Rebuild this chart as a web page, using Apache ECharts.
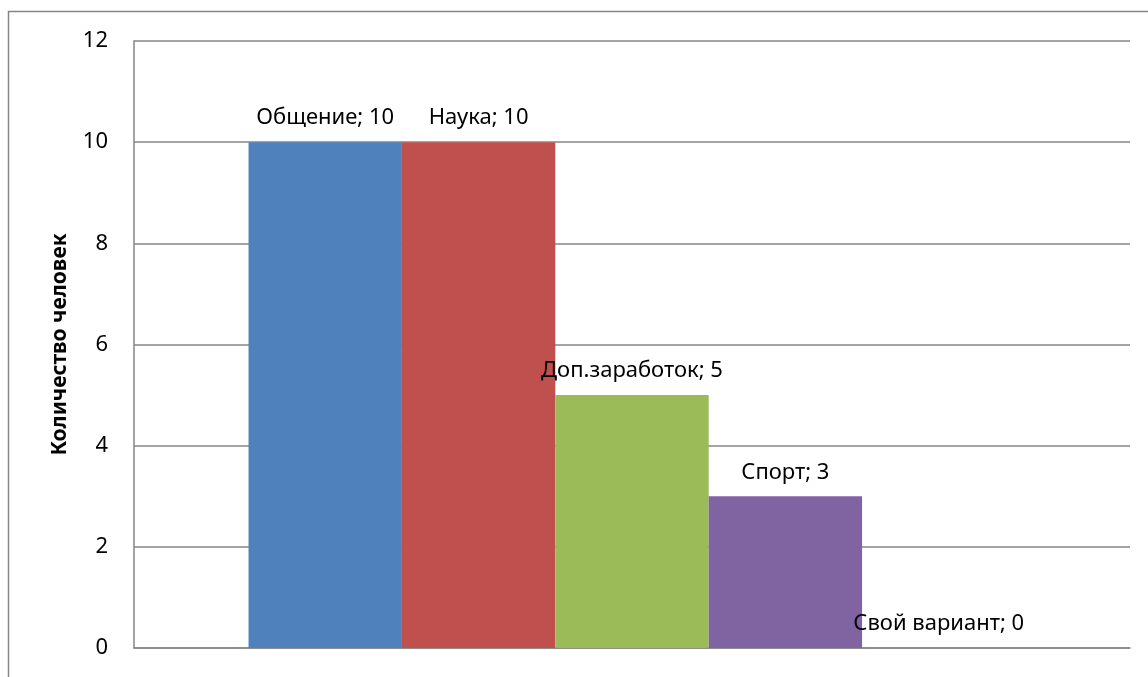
<!DOCTYPE html>
<html>
<head>
<meta charset="utf-8">
<script src="https://cdn.jsdelivr.net/npm/echarts@6/dist/echarts.min.js"></script>
<style>
    html, body { margin: 0; padding: 0; background: #fff; }
    #chart { width: 1148px; height: 677px; }
</style>
</head>
<body>
<div id="chart"></div>
<script>
let categories = [''];
let seriesNames = ['Общение', 'Наука', 'Доп.заработок', 'Спорт', 'Свой вариант'];
let seriesValues = [10, 10, 5, 3, 0];
let seriesColors = ['#4F81BD', '#C0504D', '#9BBB59', '#8064A2', '#4BACC6'];
let yTicks = { min: 0, max: 12, interval: 2 };

let font = '"Noto Sans", "Open Sans", sans-serif';

let me = echarts.init(document.getElementById('chart'));

let series = seriesNames.map(function (name, i) {
    return {
        name: name,
        type: 'bar',
        data: [seriesValues[i]],
        barGap: 0,
        barCategoryGap: '23%',
        itemStyle: { color: seriesColors[i] },
        label: {
            show: true,
            position: 'top',
            distance: 13,
            formatter: '{a}; {c}',
            color: '#000',
            fontFamily: font,
            fontSize: 22
        }
    };
});

let option = {
    animation: false,
    backgroundColor: '#fff',
    grid: {
        left: 134,
        right: 18,
        top: 41,
        bottom: 29
    },
    graphic: [{
        type: 'rect',
        shape: { x: 8.5, y: 11.5, width: 1300, height: 800 },
        style: { fill: null, stroke: '#868686', lineWidth: 1.5 },
        silent: true
    }],
    xAxis: {
        type: 'category',
        data: categories,
        axisLine: { lineStyle: { color: '#868686', width: 1.5 } },
        axisTick: { show: false },
        axisLabel: { show: false }
    },
    yAxis: {
        type: 'value',
        min: yTicks.min,
        max: yTicks.max,
        interval: yTicks.interval,
        name: 'Количество человек',
        nameLocation: 'middle',
        nameGap: 63,
        nameTextStyle: {
            fontFamily: font,
            fontSize: 21,
            fontWeight: 'bold',
            color: '#000'
        },
        axisLine: { show: true, lineStyle: { color: '#868686', width: 1.5 } },
        axisTick: { show: false },
        axisLabel: {
            margin: 26,
            fontFamily: font,
            fontSize: 22,
            color: '#000'
        },
        splitLine: { lineStyle: { color: '#868686', width: 1.5 } }
    },
    series: series
};

me.setOption(option);
</script>
</body>
</html>
